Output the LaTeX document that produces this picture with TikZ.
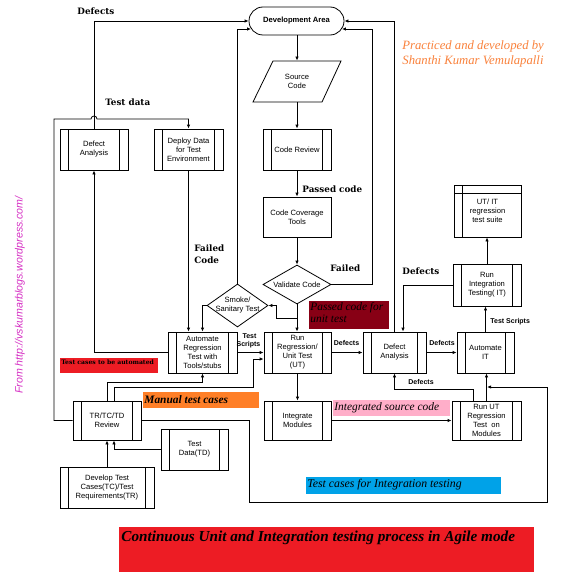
\documentclass[tikz,border=0pt]{standalone}
\usepackage{fontspec}
\setmainfont{Liberation Serif}
\setsansfont{Liberation Sans}
\newfontfamily\djs{DejaVu Serif}
\usetikzlibrary{arrows.meta,shapes.geometric}
\definecolor{tcred}{RGB}{237,28,36}
\definecolor{mtorange}{RGB}{255,127,39}
\definecolor{pcdark}{RGB}{136,0,21}
\definecolor{ispink}{RGB}{255,174,201}
\definecolor{itblue}{RGB}{0,162,232}
\definecolor{prorange}{RGB}{250,130,60}
\definecolor{urlmag}{RGB}{214,48,196}
\newcommand\bxfont{\fontsize{7.6}{9}\selectfont\sffamily}
\newcommand\lblserif{\djs\bfseries\fontsize{8.8}{11}\selectfont}
\newcommand\lblsmall{\sffamily\bfseries\fontsize{7}{8}\selectfont}
\newcommand\lblital{\rmfamily\itshape\fontsize{11.4}{12}\selectfont}
\begin{document}
\begin{tikzpicture}[x=1pt,y=-1pt,line width=0.8pt,
  arr/.style={-{Latex[length=4pt,width=3.4pt]}},
  base/.style={draw,line width=0.8pt,inner sep=0pt,align=center,font=\bxfont},
  box/.style={base,rectangle},
  proc/.style={base,rectangle,path picture={
    \draw[line width=0.8pt] ([xshift=8.5pt]path picture bounding box.north west) -- ([xshift=8.5pt]path picture bounding box.south west)
    ([xshift=-8.5pt]path picture bounding box.north east) -- ([xshift=-8.5pt]path picture bounding box.south east);}},
  store/.style={base,rectangle,path picture={
    \draw[line width=0.8pt] ([xshift=8pt]path picture bounding box.north west) -- ([xshift=8pt]path picture bounding box.south west)
    ([yshift=-8pt]path picture bounding box.north west) -- ([yshift=-8pt]path picture bounding box.north east);}},
  dia/.style={draw,diamond,line width=0.8pt,inner sep=0pt},
  txt/.style={inner sep=0pt,align=center,font=\bxfont},
  slab/.style={inner sep=0pt,anchor=base west,font=\lblserif},
  blab/.style={inner sep=0pt,anchor=base,font=\lblsmall},
  ilab/.style={inner sep=0pt,anchor=base west,font=\lblital}]
\useasboundingbox (0,0) rectangle (563,578);
\fill[white] (0,0) rectangle (563,578);

% coloured label backgrounds
\fill[tcred] (60,358) rectangle (158,373);
\fill[mtorange] (143,392) rectangle (259,408);
\fill[pcdark] (309,301) rectangle (389,329);
\fill[ispink] (333,400) rectangle (450,416);
\fill[itblue] (306,477) rectangle (501,494);
\fill[tcred] (119,527) rectangle (534,572);

% nodes
\node[base,rounded corners=14pt,minimum width=95pt,minimum height=28pt,font=\bxfont\bfseries] (dev) at (296.5,21) {Development Area};
\draw (273,61) -- (341,61) -- (322,102) -- (253,102) -- cycle;
\node[txt,minimum width=50pt,minimum height=41pt] (src) at (297,81.5) {Source\\Code};
\node[proc,minimum width=68pt,minimum height=41pt] (defL) at (94,149.5) {Defect\\Analysis};
\node[proc,minimum width=69pt,minimum height=41pt] (deploy) at (188.5,149.5) {Deploy Data\\for Test\\Environment};
\node[proc,minimum width=68pt,minimum height=41pt] (coderev) at (297,149.5) {Code Review};
\node[box,minimum width=68pt,minimum height=40pt] (cov) at (297,217) {Code Coverage\\Tools};
\node[dia,minimum width=68pt,minimum height=39pt] (val) at (297,284.5) {};
\node[txt] (valt) at (val) {Validate Code};
\node[dia,minimum width=61pt,minimum height=43pt] (smoke) at (237.5,305.5) {};
\node[txt] (smoket) at (smoke) {Smoke/\\Sanitary Test};
\node[proc,minimum width=69pt,minimum height=41pt] (autoreg) at (202.5,352.5) {Automate\\Regression\\Test with\\Tools/stubs};
\node[proc,minimum width=67pt,minimum height=41pt] (runreg) at (297.5,352.5) {Run\\Regression/\\Unit Test\\(UT)};
\node[proc,minimum width=63pt,minimum height=41pt] (defR) at (394.5,352.5) {Defect\\Analysis};
\node[proc,minimum width=57pt,minimum height=41pt] (autoit) at (485.5,352.5) {Automate\\IT};
\node[proc,minimum width=68pt,minimum height=42pt] (runit) at (487,285) {Run\\Integration\\Testing( IT)};
\node[store,minimum width=67pt,minimum height=52pt] (suite) at (487.5,211) {UT/ IT\\regression\\test suite};
\node[proc,minimum width=67pt,minimum height=39pt] (integ) at (297.5,420.5) {Integrate\\Modules};
\node[proc,minimum width=69pt,minimum height=39pt] (runut) at (486.5,420.5) {Run UT\\Regression\\Test\ \ on\\Modules};
\node[proc,minimum width=68pt,minimum height=39pt] (trrev) at (107,420.5) {TR/TC/TD\\Review};
\node[proc,minimum width=94pt,minimum height=41pt] (devtc) at (107,487.5) {Develop Test\\Cases(TC)/Test\\Requirements(TR)};
\node[proc,minimum width=67pt,minimum height=41pt] (tdata) at (194.5,449.5) {Test\\Data(TD)};

% connectors
\draw[arr] (src.north |- dev.south) -- (src.north);
\draw[arr] (src.south) -- (coderev.north);
\draw[arr] (coderev.south) -- (cov.north);
\draw[arr] (cov.south) -- (val.north);
\draw[arr] (val.east) -| (372,29) -- ([shift={(-2.5pt,-8pt)}]dev.east);
\draw[arr] (defR.north) |- (dev.east);
\draw[arr] (defL.north) |- (dev.west);
\draw[arr] (smoke.north) |- ([shift={(2.5pt,-8pt)}]dev.west);
\draw[arr] (smoke.west) -| (autoreg.north);
\draw[arr] (deploy.south) -- (deploy.south |- autoreg.north);
\draw[arr] (val.south) -- (val.south |- runreg.north);
\coordinate (vb) at (297,318);
\draw[arr] (vb) -| (276,305.5) -- (smoke.east);
\draw[arr] (autoreg.east) -- (runreg.west);
\draw[arr] (autoreg.west) -| (defL.south);
\draw[arr] (trrev.west) -| (54,119) -- (91,119) arc (180:360:3) -- (188.5,119) -- (deploy.north);
\draw[arr] (trrev.north) |- (202.5,382) -- (autoreg.south);
\draw[arr] ([xshift=7pt]trrev.north) |- (253,387) |- ([yshift=-6.5pt]runreg.west);
\coordinate (jt) at (487,387);
\draw[arr] (trrev.east) -| (249,502) -| (547,387) -- (jt);
\draw[arr] (tdata.west) -| ([xshift=7pt]trrev.south);
\draw[arr] (devtc.north) -- (trrev.south);
\draw[arr] (runreg.south) -- (integ.north);
\draw[arr] (integ.east) -- (runut.west);
\draw[arr] (runreg.east) -- (defR.west);
\draw[arr] (defR.east) -- (autoit.west);
\draw[arr] ([xshift=-13.5pt]runut.north) |- (394.5,389) -- (defR.south);
\draw[arr] (runut.north) -- (runut.north |- autoit.south);
\draw[arr] (autoit.north) -- (autoit.north |- runit.south);
\draw[arr] (runit.north) -- (runit.north |- suite.south);
\draw[arr] (runit.west) -| ([xshift=8.5pt]defR.north);

% serif labels
\node[slab] (l1) at (77,15) {Defects};
\node[slab] (l2) at (105,105) {Test data};
\node[slab] (l3) at (302,192) {Passed code};
\node[slab] (l4) at (194,251) {Failed};
\node[slab] (l4b) at (194,263) {Code};
\node[slab] (l5) at (330,271) {Failed};
\node[slab] (l6) at (402,274) {Defects};
% small bold labels
\node[blab] (s1) at (249.5,338) {Test};
\node[blab] (s2) at (248.5,346) {Scripts};
\node[blab] (s3) at (346.5,345) {Defects};
\node[blab] (s4) at (442,345) {Defects};
\node[blab,anchor=base west] (s5) at (490,323) {Test Scripts};
\node[blab,anchor=base west] (s6) at (408,384) {Defects};
% coloured labels
\node[inner sep=0pt,anchor=base west,font=\djs\bfseries\fontsize{6.1}{7}\selectfont] (c1) at (61,364.5) {Test cases to be automated};
\node[ilab,font=\lblital\bfseries] (c2) at (144,403) {Manual test cases};
\node[ilab] (c3) at (310,310.5) {Passed code for};
\node[ilab] (c3b) at (310,322.5) {unit test};
\node[ilab] (c4) at (334,410) {Integrated source code};
\node[ilab,font=\rmfamily\itshape\fontsize{11.8}{12}\selectfont] (c5) at (307,487) {Test cases for Integration testing};
\node[inner sep=0pt,anchor=base west,font=\rmfamily\itshape\bfseries\fontsize{15.2}{17}\selectfont] (c6) at (121,541) {Continuous Unit and Integration testing process in Agile mode};
\node[inner sep=0pt,anchor=base west,text=prorange,font=\rmfamily\itshape\fontsize{12.7}{15}\selectfont] (p1) at (402,49) {Practiced and developed by};
\node[inner sep=0pt,anchor=base west,text=prorange,font=\rmfamily\itshape\fontsize{12.7}{15}\selectfont] (p2) at (402,64) {Shanthi Kumar Vemulapalli};
\node[inner sep=0pt,rotate=90,text=urlmag,font=\sffamily\itshape\fontsize{10.6}{12}\selectfont] (url) at (20,295) {From http://vskumarblogs.wordpress.com/};
\end{tikzpicture}
\end{document}
